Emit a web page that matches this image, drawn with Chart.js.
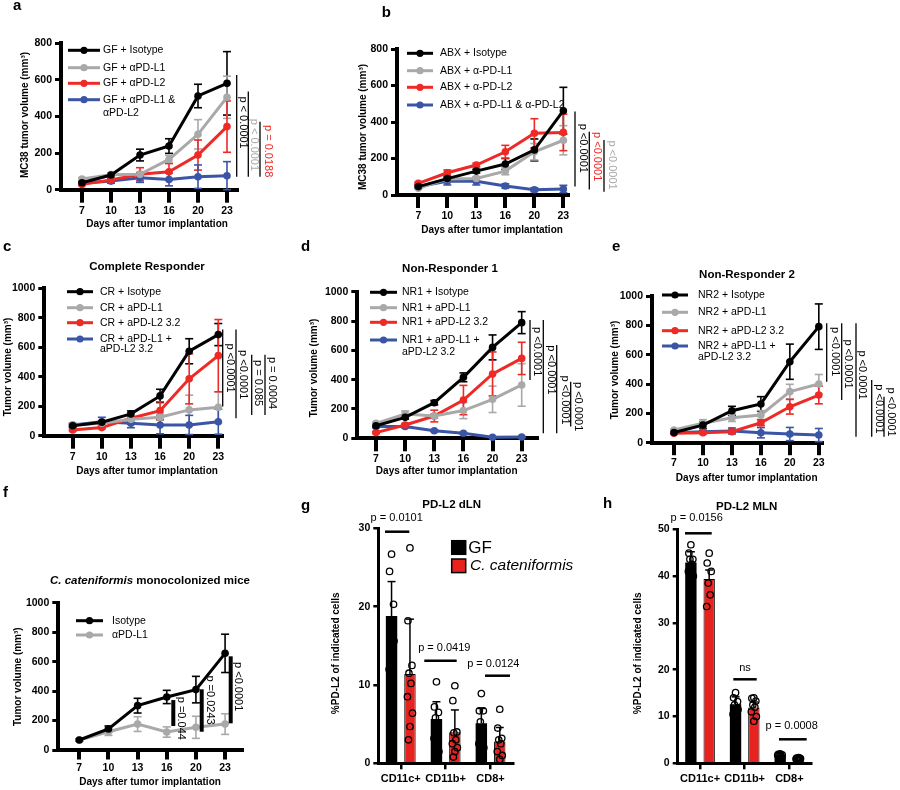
<!DOCTYPE html>
<html>
<head>
<meta charset="utf-8">
<title>Tumor volume and PD-L2 expression</title>
<script src="https://cdn.jsdelivr.net/npm/chart.js@4.4.1/dist/chart.umd.min.js"></script>
<style>
	html, body { margin: 0; padding: 0; background: #fff; }
	body { position: relative; width: 900px; height: 790px; overflow: hidden; }
	canvas { position: absolute; left: 0; top: 0; }
</style>
</head>
<body>
<script>

const days = [ '7', '10', '13', '16', '20', '23' ];
const cellTypes = [ 'CD11c+', 'CD11b+', 'CD8+' ];

// a : germ free mice
const aLabels = [ 'GF + Isotype', 'GF + αPD-L1', 'GF + αPD-L2', 'GF + αPD-L1 &\nαPD-L2' ];
const aIsotype = [ 38, 80, 189, 238, 511, 580 ];
const aIsotypeSem = [ 8, 8, 32, 40, 64, 173 ];
const aPDL1 = [ 58, 82, 84, 165, 302, 504 ];
const aPDL1Sem = [ 8, 8, 10, 22, 80, 115 ];
const aPDL2 = [ 29, 53, 84, 98, 189, 344 ];
const aPDL2Sem = [ 6, 10, 36, 45, 82, 140 ];
const aCombo = [ 35, 47, 65, 56, 71, 76 ];
const aComboSem = [ 8, 12, 25, 35, 64, 77 ];

// b : antibiotic treated mice
const bLabels = [ 'ABX + Isotype', 'ABX + α-PD-L1', 'ABX + α-PD-L2', 'ABX + α-PD-L1 & α-PD-L2' ];
const bIsotype = [ 46, 90, 131, 170, 247, 462 ];
const bIsotypeSem = [ 6, 10, 10, 30, 60, 128 ];
const bPDL1 = [ 37, 88, 91, 131, 237, 300 ];
const bPDL1Sem = [ 5, 8, 10, 20, 45, 80 ];
const bPDL2 = [ 64, 122, 164, 237, 338, 343 ];
const bPDL2Sem = [ 6, 15, 10, 35, 80, 100 ];
const bCombo = [ 46, 75, 75, 49, 29, 33 ];
const bComboSem = [ 8, 20, 20, 12, 10, 20 ];

// c : complete responder
const cLabels = [ 'CR + Isotype', 'CR + aPD-L1', 'CR + aPD-L2 3.2', 'CR + aPD-L1 +\naPD-L2 3.2' ];
const cIsotype = [ 68, 91, 148, 270, 573, 686 ];
const cIsotypeSem = [ 8, 10, 20, 45, 85, 75 ];
const cPDL1 = [ 73, 84, 111, 125, 175, 193 ];
const cPDL1Sem = [ 8, 10, 15, 20, 100, 105 ];
const cPDL2 = [ 39, 55, 118, 170, 386, 543 ];
const cPDL2Sem = [ 6, 8, 40, 60, 170, 245 ];
const cCombo = [ 73, 95, 84, 73, 73, 95 ];
const cComboSem = [ 12, 30, 30, 60, 65, 85 ];

// d : non-responder 1
const dLabels = [ 'NR1 + Isotype', 'NR1 + aPD-L1', 'NR1 + aPD-L2 3.2', 'NR1 + aPD-L1 +\naPD-L2 3.2' ];
const dIsotype = [ 86, 143, 243, 416, 620, 789 ];
const dIsotypeSem = [ 8, 12, 15, 30, 85, 75 ];
const dPDL1 = [ 102, 166, 152, 189, 266, 364 ];
const dPDL1Sem = [ 8, 20, 15, 55, 90, 145 ];
const dPDL2 = [ 39, 91, 152, 261, 439, 545 ];
const dPDL2Sem = [ 6, 10, 40, 100, 150, 110 ];
const dCombo = [ 80, 80, 52, 34, 7, 9 ];
const dComboSem = [ 8, 8, 6, 6, 4, 4 ];

// e : non-responder 2
const eLabels = [ 'NR2 + Isotype', 'NR2 + aPD-L1', 'NR2 + aPD-L2 3.2', 'NR2 + aPD-L1 +\naPD-L2 3.2' ];
const eIsotype = [ 70, 120, 218, 264, 552, 791 ];
const eIsotypeSem = [ 8, 20, 30, 50, 120, 155 ];
const ePDL1 = [ 86, 132, 170, 189, 348, 400 ];
const ePDL1Sem = [ 8, 25, 25, 30, 50, 65 ];
const ePDL2 = [ 64, 68, 75, 136, 245, 325 ];
const ePDL2Sem = [ 6, 8, 8, 20, 50, 60 ];
const eCombo = [ 68, 75, 80, 68, 59, 52 ];
const eComboSem = [ 8, 10, 20, 35, 45, 45 ];

// f : C. cateniformis monocolonized
const fLabels = [ 'Isotype', 'αPD-L1' ];
const fIsotype = [ 68, 143, 301, 360, 410, 656 ];
const fIsotypeSem = [ 8, 20, 50, 45, 90, 130 ];
const fPDL1 = [ 68, 124, 176, 122, 154, 176 ];
const fPDL1Sem = [ 8, 25, 50, 35, 75, 70 ];

// g : PD-L2 in dLN
const gGF = [ 18.8, 5.66, 5.1 ];
const gGFSd = [ 4.4, 2.2, 1.9 ];
const gGFPoints = [ [ 26.7, 24.5, 20.3, 17.5, 15.0, 12.0, 15.6 ], [ 10.4, 7.2, 6.5, 5.8, 5.0, 3.2, 1.5 ], [ 8.9, 6.7, 6.7, 5.3, 3.5, 2.5, 2.0 ] ];
const gCat = [ 11.4, 3.96, 2.77 ];
const gCatSd = [ 7.0, 2.85, 1.8 ];
const gCatPoints = [ [ 27.5, 18.2, 12.5, 11.5, 10.2, 8.5, 6.4, 4.7, 3.0 ], [ 9.9, 8.0, 4.0, 3.9, 3.0, 2.5, 2.0, 1.5, 0.8 ], [ 6.9, 4.5, 3.2, 3.0, 2.5, 1.5, 1.0, 0.5 ] ];

// h : PD-L2 in MLN
const hGF = [ 42.9, 12.6, 1.8 ];
const hGFSd = [ 2.3, 1.6, 0.3 ];
const hGFPoints = [ [ 46.7, 44.9, 43.6, 43.6, 42.5, 41.0, 40.0 ], [ 15.1, 14.0, 13.2, 12.5, 11.5, 10.5, 11.5 ], [ 2.0, 1.9, 1.8, 1.7, 1.6, 1.7 ] ];
const hCat = [ 39.4, 11.9, 1.07 ];
const hCatSd = [ 1.9, 1.2, 0.2 ];
const hCatPoints = [ [ 44.9, 42.8, 41.0, 38.5, 36.0, 33.5 ], [ 14.0, 13.9, 13.3, 12.5, 12.0, 11.0, 10.0, 9.0 ], [ 1.2, 1.1, 1.0, 1.0, 1.1, 0.9 ] ];

const BLACK = '#000000';
const GREY = '#a9a9a9';
const RED = '#ee2a26';
const BAR_RED = '#e8231f';
const BLUE = '#3a55a5';
const FAMILY = '"Liberation Sans", Arial, Helvetica, sans-serif';

const TICK_FONT = { family: FAMILY, size: 10.5, weight: 'bold' };
const LETTER_FONT = `bold 15px ${FAMILY}`;
const TITLE_FONT = `bold 11.5px ${FAMILY}`;
const AXIS_FONT = `bold 10px ${FAMILY}`;
const LEGEND_FONT = `10.5px ${FAMILY}`;
const P_FONT = `11px ${FAMILY}`;

// y axis box width, in pixels
const Y_BOX = 40;

function drawText ( ctx, t ) {

	ctx.save();
	ctx.fillStyle = t.colour || BLACK;
	ctx.textAlign = t.align || 'center';
	ctx.textBaseline = t.baseline || 'middle';
	ctx.translate( t.x, t.y );
	if ( t.angle ) ctx.rotate( t.angle );

	if ( t.parts ) {

		let width = 0;
		t.parts.forEach( p => { ctx.font = p.font; width += ctx.measureText( p.text ).width; } );
		let x = - width / 2;
		ctx.textAlign = 'left';
		t.parts.forEach( p => {

			ctx.font = p.font;
			ctx.fillText( p.text, x, 0 );
			x += ctx.measureText( p.text ).width;

		} );

	} else {

		ctx.font = t.font;
		ctx.fillText( t.text, 0, 0 );

	}

	ctx.restore();

}

function strokeLine ( ctx, x0, y0, x1, y1, colour, width ) {

	ctx.save();
	ctx.strokeStyle = colour;
	ctx.lineWidth = width;
	ctx.beginPath();
	ctx.moveTo( x0, y0 );
	ctx.lineTo( x1, y1 );
	ctx.stroke();
	ctx.restore();

}

const spread = [ 0, -2, 2, -1, 1, -2.5, 2.5, 0, -1.5 ];

const decor = {

	id: 'decor',

	beforeDatasetsDraw ( chart ) {

		if ( chart.config.type !== 'line' ) return;

		const ctx = chart.ctx;
		const yScale = chart.scales.y;

		chart.data.datasets.forEach( ( ds, i ) => {

			const meta = chart.getDatasetMeta( i );

			meta.data.forEach( ( point, j ) => {

				const v = ds.data[ j ].y;
				const e = ds.sem[ j ];
				const top = yScale.getPixelForValue( v + e );
				const bottom = yScale.getPixelForValue( Math.max( v - e, 0 ) );

				strokeLine( ctx, point.x, top, point.x, bottom, ds.borderColor, 1.6 );
				strokeLine( ctx, point.x - 4, top, point.x + 4, top, ds.borderColor, 1.6 );
				strokeLine( ctx, point.x - 4, bottom, point.x + 4, bottom, ds.borderColor, 1.6 );

			} );

		} );

	},

	afterDatasetsDraw ( chart ) {

		if ( chart.config.type !== 'bar' ) return;

		const ctx = chart.ctx;
		const yScale = chart.scales.y;

		chart.data.datasets.forEach( ( ds, i ) => {

			const meta = chart.getDatasetMeta( i );

			meta.data.forEach( ( bar, j ) => {

				const top = yScale.getPixelForValue( ds.data[ j ] + ds.sd[ j ] );
				strokeLine( ctx, bar.x, bar.y, bar.x, top, BLACK, 1.5 );
				strokeLine( ctx, bar.x - 4, top, bar.x + 4, top, BLACK, 1.5 );

				ds.points[ j ].forEach( ( v, k ) => {

					ctx.save();
					ctx.strokeStyle = BLACK;
					ctx.lineWidth = 1.3;
					ctx.beginPath();
					ctx.arc( bar.x + spread[ k % spread.length ], yScale.getPixelForValue( v ), 3.2, 0, Math.PI * 2 );
					ctx.stroke();
					ctx.restore();

				} );

			} );

		} );

	},

	afterDraw ( chart, args, opts ) {

		const ctx = chart.ctx;
		const yScale = chart.scales.y;

		( opts.texts || [] ).forEach( t => drawText( ctx, t ) );

		( opts.pvalues || [] ).forEach( p => {

			strokeLine( ctx, p.x, yScale.getPixelForValue( p.from ), p.x, yScale.getPixelForValue( p.to ), p.lineColour || BLACK, p.width || 1.3 );
			drawText( ctx, { text: p.text, x: p.tx, y: yScale.getPixelForValue( p.at ), colour: p.colour || BLACK, font: P_FONT, angle: Math.PI / 2 } );

		} );

		( opts.brackets || [] ).forEach( b => {

			strokeLine( ctx, b.x0, b.y, b.x1, b.y, BLACK, 2.5 );
			drawText( ctx, { text: b.text, x: b.tx, y: b.ty, font: P_FONT } );

		} );

		const legend = opts.legend;

		if ( legend ) {

			chart.data.datasets.forEach( ( ds, i ) => {

				const y = legend.rows[ i ];
				strokeLine( ctx, legend.x0, y, legend.x1, y, ds.borderColor, 3 );
				ctx.save();
				ctx.fillStyle = ds.borderColor;
				ctx.beginPath();
				ctx.arc( ( legend.x0 + legend.x1 ) / 2, y, 3.6, 0, Math.PI * 2 );
				ctx.fill();
				ctx.restore();

				ds.label.split( '\n' ).forEach( ( line, k ) => {

					drawText( ctx, { text: line, x: legend.tx, y: y + k * legend.step, align: 'left', font: LEGEND_FONT } );

				} );

			} );

		}

		( opts.keys || [] ).forEach( k => {

			ctx.save();
			ctx.fillStyle = k.colour;
			ctx.fillRect( k.x, k.y, 14, 13.6 );
			ctx.strokeStyle = BLACK;
			ctx.lineWidth = 1.5;
			ctx.strokeRect( k.x, k.y, 14, 13.6 );
			ctx.restore();

		} );

	}

};

function addCanvas () {

	const canvas = document.createElement( 'canvas' );
	canvas.width = 900;
	canvas.height = 790;
	document.body.appendChild( canvas );
	return canvas;

}

function axisOptions ( tickLength, tickWidth, borderWidth ) {

	return {
		border: { display: true, color: BLACK, width: borderWidth },
		grid: { display: true, drawOnChartArea: false, drawTicks: true, tickLength: tickLength, tickWidth: tickWidth, tickColor: BLACK, color: BLACK, lineWidth: tickWidth, offset: false },
		ticks: { color: BLACK, font: TICK_FONT, autoSkip: false, maxRotation: 0, padding: 2 }
	};

}

function layoutFor ( box, xBox ) {

	return { padding: { left: box.left - Y_BOX, top: box.top, right: 900 - box.right, bottom: 790 - box.bottom - xBox } };

}

function tumourChart ( spec ) {

	const colours = [ BLACK, GREY, RED, BLUE ];

	const datasets = spec.series.map( ( s, i ) => ( {
		label: spec.labels[ i ],
		data: s[ 0 ].map( ( v, j ) => ( { x: j, y: v } ) ),
		sem: s[ 1 ],
		borderColor: colours[ i ],
		backgroundColor: colours[ i ],
		pointBackgroundColor: colours[ i ],
		borderWidth: 3,
		pointRadius: 3.8,
		pointBorderWidth: 0,
		tension: 0,
		clip: false
	} ) );

	const x = axisOptions( spec.xTick, 4, 4 );
	x.type = 'linear';
	x.min = spec.xRange[ 0 ];
	x.max = spec.xRange[ 1 ];
	x.afterFit = s => { s.height = 30; };
	x.afterBuildTicks = s => { s.ticks = days.map( ( d, i ) => ( { value: i } ) ); };
	x.ticks.callback = v => days[ v ];

	const y = axisOptions( 6, 3, 4 );
	y.min = 0;
	y.max = spec.yMax;
	y.ticks.stepSize = 200;
	y.ticks.padding = 3;
	y.ticks.callback = v => String( v );
	y.afterFit = s => { s.width = Y_BOX; };

	return new Chart( addCanvas(), {
		type: 'line',
		data: { datasets },
		options: {
			responsive: false,
			animation: false,
			events: [],
			layout: layoutFor( spec.box, 30 ),
			scales: { x, y },
			plugins: { legend: { display: false }, tooltip: { enabled: false }, decor: spec.decor }
		},
		plugins: [ decor ]
	} );

}

function pdl2Chart ( spec ) {

	const x = axisOptions( 6, 2.5, 3 );
	x.type = 'category';
	x.offset = true;
	x.afterFit = s => { s.height = 26; };
	x.ticks.padding = 3;
	x.ticks.font = { family: FAMILY, size: 11, weight: 'bold' };

	const y = axisOptions( 5, 2.5, 3 );
	y.min = 0;
	y.max = spec.yMax;
	y.ticks.stepSize = 10;
	y.ticks.padding = 3;
	y.ticks.callback = v => String( v );
	y.afterFit = s => { s.width = Y_BOX; };

	return new Chart( addCanvas(), {
		type: 'bar',
		data: {
			labels: cellTypes,
			datasets: [
				{ label: 'GF', data: spec.gf[ 0 ], sd: spec.gf[ 1 ], points: spec.gf[ 2 ], backgroundColor: BLACK, borderColor: BLACK, borderWidth: 0 },
				{ label: 'C. cateniformis', data: spec.cat[ 0 ], sd: spec.cat[ 1 ], points: spec.cat[ 2 ], backgroundColor: BAR_RED, borderColor: BLACK, borderWidth: 1 }
			]
		},
		options: {
			responsive: false,
			animation: false,
			events: [],
			categoryPercentage: 0.82,
			barPercentage: 0.62,
			layout: layoutFor( spec.box, 26 ),
			scales: { x, y },
			plugins: { legend: { display: false }, tooltip: { enabled: false }, decor: spec.decor }
		},
		plugins: [ decor ]
	} );

}

const xTitle = 'Days after tumor implantation';
const UP = - Math.PI / 2;

tumourChart( {
	box: { left: 61, top: 43, right: 237, bottom: 189.7 },
	xRange: [ -0.724, 5.345 ], yMax: 800, xTick: 13,
	labels: aLabels,
	series: [ [ aIsotype, aIsotypeSem ], [ aPDL1, aPDL1Sem ], [ aPDL2, aPDL2Sem ], [ aCombo, aComboSem ] ],
	decor: {
		texts: [
			{ text: 'a', x: 13, y: 10, align: 'left', baseline: 'alphabetic', font: LETTER_FONT },
			{ text: 'MC38 tumor volume (mm³)', x: 25, y: 115, angle: UP, font: AXIS_FONT },
			{ text: xTitle, x: 157, y: 224, font: AXIS_FONT }
		],
		legend: { x0: 68, x1: 100, tx: 103, step: 13.6, rows: [ 50.3, 67.7, 83.3, 99.7 ] },
		pvalues: [
			{ x: 236.7, from: 625, to: 71, tx: 242.7, at: 366, text: 'p < 0.0001', colour: BLACK },
			{ x: 248.3, from: 535, to: 71, tx: 253.7, at: 244, text: 'p < 0.0001', colour: GREY },
			{ x: 260, from: 371, to: 71, tx: 268.3, at: 210, text: 'p = 0.0188', colour: RED }
		]
	}
} );

tumourChart( {
	box: { left: 397, top: 49, right: 568, bottom: 195 },
	xRange: [ -0.734, 5.16 ], yMax: 800, xTick: 13,
	labels: bLabels,
	series: [ [ bIsotype, bIsotypeSem ], [ bPDL1, bPDL1Sem ], [ bPDL2, bPDL2Sem ], [ bCombo, bComboSem ] ],
	decor: {
		texts: [
			{ text: 'b', x: 381.7, y: 16.7, align: 'left', baseline: 'alphabetic', font: LETTER_FONT },
			{ text: 'MC38 tumor volume (mm³)', x: 363, y: 127, angle: UP, font: AXIS_FONT },
			{ text: xTitle, x: 492, y: 230, font: AXIS_FONT }
		],
		legend: { x0: 407, x1: 433, tx: 440, step: 13, rows: [ 53.3, 70.7, 87.3, 105 ] },
		pvalues: [
			{ x: 575, from: 457, to: 46, tx: 583.3, at: 256, text: 'p <0.0001', colour: BLACK },
			{ x: 589.3, from: 347, to: 30, tx: 596.7, at: 210, text: 'p <0.0001', colour: RED },
			{ x: 604, from: 301, to: 18, tx: 611.7, at: 164, text: 'p <0.0001', colour: GREY }
		]
	}
} );

tumourChart( {
	box: { left: 44.3, top: 288.3, right: 222, bottom: 435.7 },
	xRange: [ -0.975, 5.127 ], yMax: 1000, xTick: 13,
	labels: cLabels,
	series: [ [ cIsotype, cIsotypeSem ], [ cPDL1, cPDL1Sem ], [ cPDL2, cPDL2Sem ], [ cCombo, cComboSem ] ],
	decor: {
		texts: [
			{ text: 'c', x: 3, y: 251, align: 'left', baseline: 'alphabetic', font: LETTER_FONT },
			{ text: 'Complete Responder', x: 147, y: 267, font: TITLE_FONT },
			{ text: 'Tumor volume (mm³)', x: 8, y: 367, angle: UP, font: AXIS_FONT },
			{ text: xTitle, x: 147, y: 471, font: AXIS_FONT }
		],
		legend: { x0: 67, x1: 93, tx: 100, step: 10.5, rows: [ 291.7, 307.7, 322.7, 339 ] },
		pvalues: [
			{ x: 222.7, from: 720, to: 198, tx: 230, at: 459, text: 'p <0.0001' },
			{ x: 236, from: 720, to: 118, tx: 243.3, at: 414, text: 'p <0.0001' },
			{ x: 251.7, from: 550, to: 141, tx: 258.3, at: 357, text: 'p = 0.085' },
			{ x: 265, from: 550, to: 141, tx: 271.7, at: 357, text: 'p = 0.0004' }
		]
	}
} );

tumourChart( {
	box: { left: 357.3, top: 291.7, right: 536.7, bottom: 438.3 },
	xRange: [ -0.642, 5.515 ], yMax: 1000, xTick: 13,
	labels: dLabels,
	series: [ [ dIsotype, dIsotypeSem ], [ dPDL1, dPDL1Sem ], [ dPDL2, dPDL2Sem ], [ dCombo, dComboSem ] ],
	decor: {
		texts: [
			{ text: 'd', x: 301, y: 251, align: 'left', baseline: 'alphabetic', font: LETTER_FONT },
			{ text: 'Non-Responder 1', x: 450, y: 269.3, font: TITLE_FONT },
			{ text: 'Tumor volume (mm³)', x: 314, y: 368, angle: UP, font: AXIS_FONT },
			{ text: xTitle, x: 446.7, y: 471.7, font: AXIS_FONT }
		],
		legend: { x0: 370, x1: 397, tx: 402, step: 11.7, rows: [ 292.3, 307.7, 322.3, 340 ] },
		pvalues: [
			{ x: 530, from: 807, to: 398, tx: 536.7, at: 591, text: 'p <0.0001' },
			{ x: 543.3, from: 807, to: 34, tx: 550.7, at: 466, text: 'p <0.0001' },
			{ x: 556.7, from: 636, to: 34, tx: 565, at: 261, text: 'p <0.0001' },
			{ x: 570.7, from: 386, to: 80, tx: 578.3, at: 216, text: 'p <0.0001' }
		]
	}
} );

tumourChart( {
	box: { left: 652, top: 296, right: 821.7, bottom: 442.7 },
	xRange: [ -0.76, 5.10 ], yMax: 1000, xTick: 12.5,
	labels: eLabels,
	series: [ [ eIsotype, eIsotypeSem ], [ ePDL1, ePDL1Sem ], [ ePDL2, ePDL2Sem ], [ eCombo, eComboSem ] ],
	decor: {
		texts: [
			{ text: 'e', x: 612, y: 251, align: 'left', baseline: 'alphabetic', font: LETTER_FONT },
			{ text: 'Non-Responder 2', x: 747, y: 275, font: TITLE_FONT },
			{ text: 'Tumor volume (mm³)', x: 615, y: 370, angle: UP, font: AXIS_FONT },
			{ text: xTitle, x: 746.7, y: 478, font: AXIS_FONT }
		],
		legend: { x0: 662, x1: 688, tx: 698, step: 10.7, rows: [ 295, 312.3, 330.7, 346 ] },
		pvalues: [
			{ x: 826.7, from: 814, to: 416, tx: 835, at: 620, text: 'p <0.0001' },
			{ x: 841.7, from: 814, to: 291, tx: 848.3, at: 536, text: 'p <0.0001' },
			{ x: 856, from: 814, to: 41, tx: 861.7, at: 461, text: 'p <0.0001' },
			{ x: 871.7, from: 427, to: 41, tx: 879.3, at: 230, text: 'p <0.0001' },
			{ x: 884, from: 314, to: 41, tx: 891, at: 209, text: 'p <0.0001' }
		]
	}
} );

tumourChart( {
	box: { left: 58.3, top: 602.7, right: 241.7, bottom: 750 },
	xRange: [ -0.72, 5.57 ], yMax: 1000, xTick: 9.5,
	labels: fLabels,
	series: [ [ fIsotype, fIsotypeSem ], [ fPDL1, fPDL1Sem ] ],
	decor: {
		texts: [
			{ text: 'f', x: 3, y: 497, align: 'left', baseline: 'alphabetic', font: LETTER_FONT },
			{ x: 150, y: 581, parts: [ { text: 'C. cateniformis', font: `italic bold 11.5px ${FAMILY}` }, { text: ' monocolonized mice', font: TITLE_FONT } ] },
			{ text: 'Tumor volume (mm³)', x: 18.3, y: 676.7, angle: UP, font: AXIS_FONT },
			{ text: xTitle, x: 150, y: 782.7, font: AXIS_FONT }
		],
		legend: { x0: 76, x1: 103, tx: 112, step: 12, rows: [ 620.7, 635 ] },
		pvalues: [
			{ x: 173.3, from: 339, to: 163, tx: 180.7, at: 215, text: 'p =0.044', width: 4 },
			{ x: 201.7, from: 412, to: 124, tx: 210, at: 339, text: 'p =0.0243', width: 4 },
			{ x: 230.7, from: 636, to: 181, tx: 238.3, at: 430, text: 'p <0.0001', width: 4 }
		]
	}
} );

pdl2Chart( {
	box: { left: 378.3, top: 528.3, right: 513, bottom: 763.3 },
	yMax: 30,
	gf: [ gGF, gGFSd, gGFPoints ],
	cat: [ gCat, gCatSd, gCatPoints ],
	decor: {
		texts: [
			{ text: 'g', x: 301, y: 510, align: 'left', baseline: 'alphabetic', font: LETTER_FONT },
			{ text: 'PD-L2 dLN', x: 451.7, y: 505, font: TITLE_FONT },
			{ text: '%PD-L2 of indicated cells', x: 336.7, y: 653.3, angle: UP, font: AXIS_FONT },
			{ text: 'GF', x: 468.3, y: 548, align: 'left', font: `17px ${FAMILY}` },
			{ text: 'C. cateniformis', x: 470, y: 566, align: 'left', font: `italic 15.5px ${FAMILY}` }
		],
		keys: [ { x: 451.7, y: 540.7, colour: BLACK }, { x: 451.7, y: 559, colour: BAR_RED } ],
		brackets: [
			{ x0: 385, x1: 409.3, y: 531.7, text: 'p = 0.0101', tx: 396.7, ty: 518 },
			{ x0: 424.3, x1: 456.7, y: 660.7, text: 'p = 0.0419', tx: 444.3, ty: 647.7 },
			{ x0: 485, x1: 510, y: 675.7, text: 'p = 0.0124', tx: 493.3, ty: 664 }
		]
	}
} );

pdl2Chart( {
	box: { left: 677.7, top: 529.3, right: 811.7, bottom: 763.3 },
	yMax: 50,
	gf: [ hGF, hGFSd, hGFPoints ],
	cat: [ hCat, hCatSd, hCatPoints ],
	decor: {
		texts: [
			{ text: 'h', x: 603, y: 508, align: 'left', baseline: 'alphabetic', font: LETTER_FONT },
			{ text: 'PD-L2 MLN', x: 746.7, y: 506.7, font: TITLE_FONT },
			{ text: '%PD-L2 of indicated cells', x: 638.3, y: 653.3, angle: UP, font: AXIS_FONT }
		],
		brackets: [
			{ x0: 685, x1: 711.7, y: 533.3, text: 'p = 0.0156', tx: 696.7, ty: 518 },
			{ x0: 733.3, x1: 756.7, y: 679.3, text: 'ns', tx: 745, ty: 667.7 },
			{ x0: 779, x1: 806.7, y: 739.3, text: 'p = 0.0008', tx: 791.7, ty: 726 }
		]
	}
} );

</script>
</body>
</html>
